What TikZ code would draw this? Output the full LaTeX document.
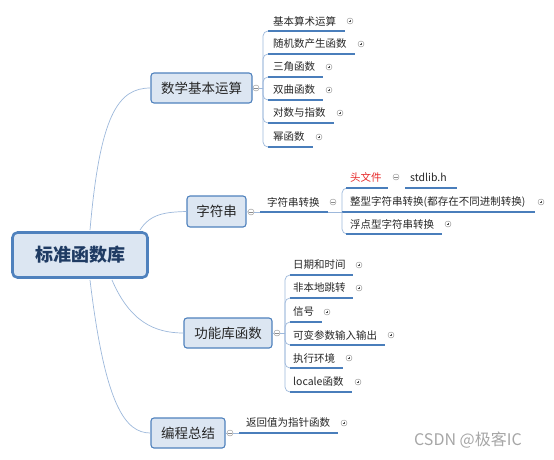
\documentclass[tikz,border=0pt]{standalone}
\usepackage{fontspec}
\setmainfont{Noto Sans CJK SC}
\definecolor{boxfill}{HTML}{DCE6F2}
\definecolor{boxline}{HTML}{4F81BD}
\definecolor{trunk}{HTML}{9DB8DB}
\definecolor{uline}{HTML}{4A7EBB}
\definecolor{txt}{HTML}{262626}
\definecolor{roottxt}{HTML}{1F3B63}
\definecolor{markgray}{HTML}{8C8C8C}
\begin{document}
\begin{tikzpicture}[x=1pt,y=-1pt,
  rootbox/.style={draw=boxline,line width=2.6pt,fill=boxfill,rounded corners=5pt,
    minimum width=135pt,minimum height=45pt,inner sep=0pt,text=roottxt,
    font=\fontsize{18}{20}\selectfont\bfseries},
  topicbox/.style={draw=boxline,line width=1.1pt,fill=boxfill,rounded corners=3pt,
    inner sep=0pt,text=txt,font=\fontsize{13.5}{15}\selectfont},
  leaf/.style={anchor=west,inner sep=0pt,text=txt,font=\fontsize{10.5}{12}\selectfont},
  trunkline/.style={draw=trunk,line width=0.7pt},
  bracket/.style={draw=trunk,line width=0.7pt,rounded corners=5pt},
  ul/.style={draw=uline,line width=1.4pt},
  minusmark/.style={circle,draw=markgray,fill=white,line width=0.4pt,minimum size=6pt,inner sep=0pt,
    path picture={\draw[markgray,line width=0.5pt]([xshift=1.3pt]path picture bounding box.west)--([xshift=-1.3pt]path picture bounding box.east);}},
  plusmark/.style={circle,draw=markgray,fill=white,line width=0.4pt,minimum size=6pt,inner sep=0pt,
    path picture={\draw[black!70,line width=0.5pt]([xshift=1.6pt]path picture bounding box.west)--([xshift=-1.6pt]path picture bounding box.east);
      \draw[black!70,line width=0.5pt]([yshift=-1.6pt]path picture bounding box.north)--([yshift=1.6pt]path picture bounding box.south);}}
]
\useasboundingbox (0,0) rectangle (554,459);

% root
\node[rootbox] (root) at (80,255) {标准函数库};

% level-1 topics
\node[topicbox,minimum width=101pt,minimum height=30pt] (math) at (201.5,88) {数学基本运算};
\node[topicbox,minimum width=59pt,minimum height=31pt] (str) at (216.5,211.5) {字符串};
\node[topicbox,minimum width=88pt,minimum height=30pt] (func) at (228,333) {功能库函数};
\node[topicbox,minimum width=74pt,minimum height=30pt] (prog) at (188,433) {编程总结};

% trunk connectors
\coordinate (r1) at (90,230);
\coordinate (r2) at (140,230);
\coordinate (r3) at (112,280);
\coordinate (r4) at (90,280);
\draw[trunkline] (r1) .. controls (100,115) and (118,88) .. (math.west);
\draw[trunkline] (r2) .. controls (150,214) and (165,212) .. (str.west);
\draw[trunkline] (r3) .. controls (130,322) and (155,333) .. (func.west);
\draw[trunkline] (r4) .. controls (105,405) and (125,433) .. (prog.west);

% ===== math children =====
\node[minusmark] (mm) at (256,88) {};
\draw[trunkline] (math.east) -- (mm.west);
\coordinate (mb) at (263,88);
\draw[trunkline] (mm.east) -- (mb);
\foreach \n/\t/\y/\e/\p in {m1/基本算术运算/21/345/350, m2/随机数产生函数/44/355/361,
  m3/三角函数/67/323/329, m4/双曲函数/90/323/329, m5/对数与指数/113/334/340, m6/幂函数/137/313/319}{
  \node[leaf] (\n) at (273,\y) {\t};
  \coordinate (\n u) at (268,\y+10);
  \draw[bracket] (mb) -- (263,\y+10) -- (\n u);
  \draw[ul] (\n u) -- (\e,\y+10);
  \node[plusmark] (\n p) at (\p,\y) {};
}

% ===== string children =====
\node[minusmark] (sm) at (251,212) {};
\draw[trunkline] (str.east) -- (sm.west);
\node[leaf] (s1) at (267,202) {字符串转换};
\coordinate (s1u) at (260,212);
\draw[trunkline] (sm.east) -- (s1u);
\draw[ul] (s1u) -- (328,212);
\node[minusmark] (s1m) at (333,202) {};
\coordinate (sb) at (342,212);
\draw[trunkline] (328,212) -- (sb);

\node[leaf,text={rgb,255:red,230;green,40;blue,40}] (s11) at (350,177) {头文件};
\coordinate (s11u) at (346,188);
\draw[bracket] (sb) -- (342,188) -- (s11u);
\draw[ul] (s11u) -- (388,188);
\node[minusmark] (s11m) at (396,177) {};
\node[leaf] (s111) at (410,177) {stdlib.h};
\draw[ul] (405,188) -- (457,188);

\node[leaf] (s12) at (350,202) {整型字符串转换(都存在不同进制转换)};
\draw[ul] (sb) -- (535,212);
\node[plusmark] (s12p) at (541,202) {};

\node[leaf] (s13) at (350,224) {浮点型字符串转换};
\coordinate (s13u) at (346,234);
\draw[bracket] (sb) -- (342,234) -- (s13u);
\draw[ul] (s13u) -- (442,234);
\node[plusmark] (s13p) at (448,224) {};

% ===== function library children =====
\node[minusmark] (fm) at (277,333) {};
\draw[trunkline] (func.east) -- (fm.west);
\coordinate (fb) at (285,333);
\draw[trunkline] (fm.east) -- (fb);
\foreach \n/\t/\y/\e/\p in {f1/日期和时间/265/353/359, f2/非本地跳转/288/353/359,
  f3/信号/312/322/327, f4/可变参数输入输出/335/385/391, f5/执行环境/358/343/349, f6/locale函数/382/352/358}{
  \node[leaf] (\n) at (293,\y) {\t};
  \coordinate (\n u) at (290,\y+10);
  \draw[bracket] (fb) -- (285,\y+10) -- (\n u);
  \draw[ul] (\n u) -- (\e,\y+10);
  \node[plusmark] (\n p) at (\p,\y) {};
}

% ===== programming summary =====
\node[minusmark] (pm) at (230,433) {};
\draw[trunkline] (prog.east) -- (pm.west);
\node[leaf] (p1) at (246,423) {返回值为指针函数};
\coordinate (p1u) at (239,433);
\draw[trunkline] (pm.east) -- (p1u);
\draw[ul] (p1u) -- (338,433);
\node[plusmark] (p1p) at (344,423) {};

% watermark
\node[anchor=west,inner sep=0pt,text=black!35,font=\fontsize{16}{18}\selectfont] (wm) at (414,440) {CSDN @极客IC};
\end{tikzpicture}
\end{document}
